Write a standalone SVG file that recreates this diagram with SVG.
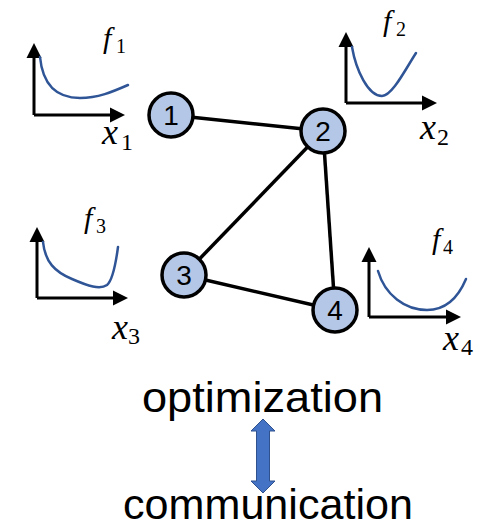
<svg xmlns="http://www.w3.org/2000/svg" width="481" height="528" viewBox="0 0 481 528">
<style>
.axis{stroke:#000;stroke-width:3;fill:none}
.head{fill:#000}
.curve{stroke:#2F5597;stroke-width:2.5;fill:none;stroke-linecap:round}
.node{fill:#B4C7E7;stroke:#000;stroke-width:3.5}
.num{font-family:"Liberation Sans",Arial,sans-serif;font-size:28px;fill:#000;text-anchor:middle}
.var{font-family:"Liberation Serif","Times New Roman",serif;font-style:italic;fill:#000}
.sub{font-family:"Liberation Serif","Times New Roman",serif;fill:#000}
.big{font-family:"Liberation Sans",Arial,sans-serif;font-size:42px;fill:#000}
.edge{stroke:#000;stroke-width:3.5}
</style>
<rect width="481" height="528" fill="#fff"/>
<g id="connectors">
<line class="edge" x1="171" y1="115" x2="323" y2="131"/>
<line class="edge" x1="323" y1="131" x2="184" y2="275"/>
<line class="edge" x1="323" y1="131" x2="335" y2="310"/>
<line class="edge" x1="184" y1="275" x2="335" y2="310"/>
</g>
<g id="node1"><circle class="node" cx="171" cy="115" r="22"/><text class="num" x="171" y="125">1</text></g>
<g id="node2"><circle class="node" cx="323" cy="131" r="22"/><text class="num" x="323" y="141">2</text></g>
<g id="node3"><circle class="node" cx="184" cy="275" r="22"/><text class="num" x="184" y="285">3</text></g>
<g id="node4"><circle class="node" cx="335" cy="310" r="22"/><text class="num" x="335" y="320">4</text></g>
<g id="plot1">
<path class="axis" d="M34,115 V56 M34,115 H112"/>
<polygon class="head" points="34,43 41.5,58 26.5,58"/>
<polygon class="head" points="125,115 110,107.5 110,122.5"/>
<path class="curve" d="M40,57 C43,88 60,98 80,98 C98,98 112,92 128,85"/>
<text x="103" y="48"><tspan class="var" font-size="30">f</tspan><tspan class="sub" font-size="20" x="116" y="53">1</tspan></text>
<text x="102" y="144"><tspan class="var" font-size="36">x</tspan><tspan class="sub" font-size="24" x="121" y="150">1</tspan></text>
</g>
<g id="plot2">
<path class="axis" d="M346,103 V45 M346,103 H424"/>
<polygon class="head" points="346,32 353.5,47 338.5,47"/>
<polygon class="head" points="437,103 422,95.5 422,110.5"/>
<path class="curve" d="M352,47 C356,70 368,96 382,96 C392,96 405,70 416,53"/>
<text x="383" y="31"><tspan class="var" font-size="30">f</tspan><tspan class="sub" font-size="20" x="396" y="36">2</tspan></text>
<text x="420" y="139"><tspan class="var" font-size="36">x</tspan><tspan class="sub" font-size="24" x="437" y="145">2</tspan></text>
</g>
<g id="plot3">
<path class="axis" d="M37,298 V240 M37,298 H115"/>
<polygon class="head" points="37,227 44.5,242 29.5,242"/>
<polygon class="head" points="128,298 113,290.5 113,305.5"/>
<path class="curve" d="M43,242 C45,262 55,272 72,279 C88,286 100,290 107,285 C113,280 116,262 118,247"/>
<text x="84" y="228"><tspan class="var" font-size="30">f</tspan><tspan class="sub" font-size="20" x="96" y="233">3</tspan></text>
<text x="112" y="339"><tspan class="var" font-size="36">x</tspan><tspan class="sub" font-size="24" x="128" y="344">3</tspan></text>
</g>
<g id="plot4">
<path class="axis" d="M369,317 V260 M369,317 H448"/>
<polygon class="head" points="369,247 376.5,262 361.5,262"/>
<polygon class="head" points="461,317 446,309.5 446,324.5"/>
<path class="curve" d="M378,271 C385,295 405,310 427,310 C445,310 458,298 466,279"/>
<text x="432" y="249"><tspan class="var" font-size="30">f</tspan><tspan class="sub" font-size="20" x="443" y="254">4</tspan></text>
<text x="443" y="350"><tspan class="var" font-size="36">x</tspan><tspan class="sub" font-size="24" x="461" y="355">4</tspan></text>
</g>
<g id="optimization"><text class="big" x="142" y="412" textLength="241" lengthAdjust="spacingAndGlyphs">optimization</text></g>
<g id="double-arrow"><polygon points="263,419 275,431 269.5,431 269.5,481 275,481 263,493 251,481 256.5,481 256.5,431 251,431" fill="#4472C4" stroke="#2F528F" stroke-width="1"/></g>
<g id="communication"><text class="big" x="123" y="519" textLength="290" lengthAdjust="spacingAndGlyphs">communication</text></g>
</svg>
